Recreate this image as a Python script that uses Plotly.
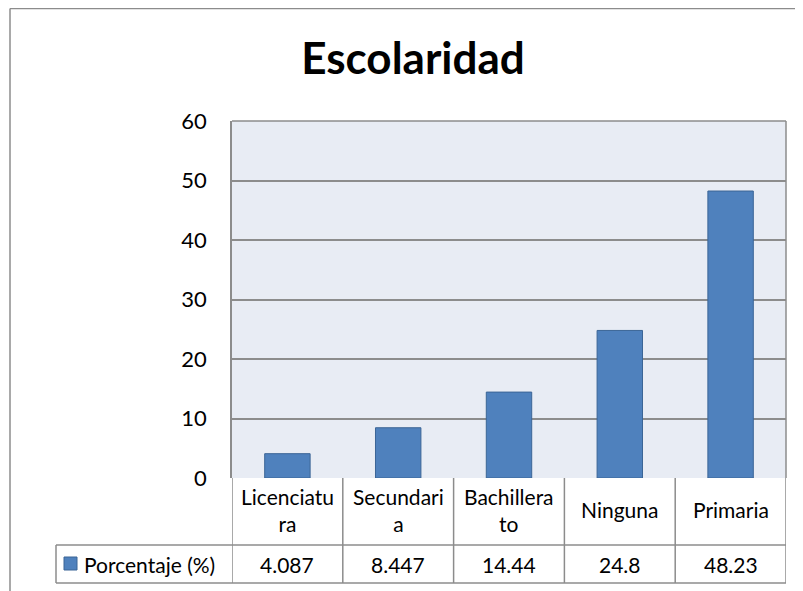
import plotly.graph_objects as go

categories = ["Licenciatura", "Secundaria", "Bachillerato", "Ninguna", "Primaria"]
category_labels = ["Licenciatu<br>ra", "Secundari<br>a", "Bachillera<br>to", "Ninguna", "Primaria"]
values = [4.087, 8.447, 14.44, 24.8, 48.23]
value_labels = ["4.087", "8.447", "14.44", "24.8", "48.23"]
series_name = "Porcentaje (%)"
title_text = "Escolaridad"
y_ticks = [0, 10, 20, 30, 40, 50, 60]

OFF = 8  # page body margin
W, H = 803 - OFF, 591 - OFF
# plot area in reference page pixels: x 232..786, y 121..478
ML = 232 - OFF
MT = 121 - OFF
MR = 803 - 786
MB = 591 - 478
pw, ph = W - ML - MR, H - MT - MB

def py(ref_y):
    return (478 - ref_y) / ph

def px(ref_x):
    return (ref_x - 232) / pw

FONT = "Lato"
GRID = "#8c8c8c"
BAR = "#4F81BD"
BAR_LINE = "#3B6596"

fig = go.Figure()
fig.add_trace(go.Bar(
    x=list(range(len(categories))), y=values, name=series_name,
    marker=dict(color=BAR, line=dict(color=BAR_LINE, width=1)),
    width=0.41, showlegend=False,
))

shapes = []
line = dict(color=GRID, width=1.5)
row1_bottom = py(545)
row2_bottom = py(583)
legend_left = px(56)
n = len(categories)
for i in range(n + 1):
    shapes.append(dict(type="line", xref="x", yref="paper", x0=i - 0.5, x1=i - 0.5,
                       y0=0, y1=row2_bottom, line=line))
shapes.append(dict(type="line", xref="paper", yref="paper", x0=legend_left, x1=1,
                   y0=row1_bottom, y1=row1_bottom, line=line))
shapes.append(dict(type="line", xref="paper", yref="paper", x0=legend_left, x1=1,
                   y0=row2_bottom, y1=row2_bottom, line=line))
shapes.append(dict(type="line", xref="paper", yref="paper", x0=legend_left, x1=legend_left,
                   y0=row1_bottom, y1=row2_bottom, line=line))
shapes.append(dict(type="rect", xref="paper", yref="paper", x0=px(64), x1=px(77),
                   y0=py(570), y1=py(557), fillcolor=BAR, line=dict(color=BAR_LINE, width=1)))
# outer chart border (top & left)
shapes.append(dict(type="line", xref="paper", yref="paper", x0=px(10), x1=px(810),
                   y0=py(8.5), y1=py(8.5), line=line))
shapes.append(dict(type="line", xref="paper", yref="paper", x0=px(10), x1=px(10),
                   y0=py(8.5), y1=py(600), line=line))
shapes.append(dict(type="line", xref="paper", yref="paper", x0=0, x1=1, y0=1, y1=1, line=line))
shapes.append(dict(type="line", xref="paper", yref="paper", x0=1, x1=1, y0=0, y1=1, line=line))

TF = dict(family=FONT, size=21, color="black")
annotations = []
for i, lab in enumerate(category_labels):
    annotations.append(dict(x=i, y=py(510), xref="x", yref="paper", text=lab,
                            showarrow=False, font=TF,
                            xanchor="center", yanchor="middle", align="center"))
for i, v in enumerate(value_labels):
    annotations.append(dict(x=i, y=py(564), xref="x", yref="paper", text=v,
                            showarrow=False, font=TF,
                            xanchor="center", yanchor="middle"))
annotations.append(dict(x=px(82), y=py(564), xref="paper", yref="paper", text=series_name,
                        showarrow=False, font=TF,
                        xanchor="left", yanchor="middle"))

fig.update_layout(
    width=W, height=H,
    margin=dict(l=ML, r=MR, t=MT, b=MB, autoexpand=False),
    paper_bgcolor="white", plot_bgcolor="#E8ECF4",
    title=dict(text="<b>" + title_text + "</b>", xref="container", x=(413 - OFF) / W,
               xanchor="center", yref="container", y=1 - (59 - OFF) / H, yanchor="middle",
               font=dict(family=FONT, size=44, color="black")),
    xaxis=dict(range=[-0.5, n - 0.5], showticklabels=False, showgrid=False,
               zeroline=False, showline=False, fixedrange=True),
    yaxis=dict(range=[0, 60], tickvals=y_ticks, showgrid=True, gridcolor=GRID,
               gridwidth=1.5, zeroline=False, showline=True, linecolor=GRID, linewidth=1.5,
               ticks="outside", ticklen=19, tickcolor="rgba(0,0,0,0)",
               tickfont=dict(family=FONT, size=22, color="black")),
    shapes=shapes, annotations=annotations, bargap=0.59,
)

fig.write_html("out.html")
